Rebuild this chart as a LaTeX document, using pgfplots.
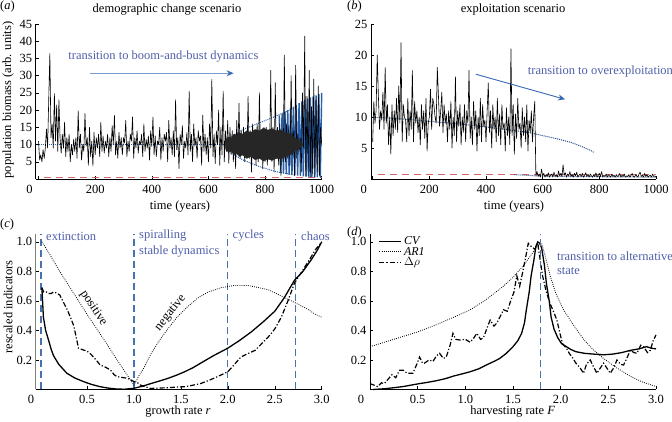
\documentclass[border=0pt]{standalone}
\usepackage{fontspec}
\setmainfont{Liberation Serif}
\usepackage{pgfplots}
\pgfplotsset{compat=1.18}
\usetikzlibrary{arrows.meta}

\definecolor{txtblue}{RGB}{80,95,170}
\definecolor{dashblue}{RGB}{70,115,175}
\definecolor{dotblue}{RGB}{45,95,175}
\definecolor{wedgeblue}{RGB}{40,95,170}
\definecolor{redd}{RGB}{210,105,105}
\definecolor{arrlight}{RGB}{120,155,210}
\definecolor{arrdark}{RGB}{55,105,180}

\pgfplotsset{
  base/.style={
    scale only axis, clip=false,
    axis lines*=left,
    axis line style={black, line width=0.6pt},
    tick style={black, line width=0.5pt},
    major tick length=3pt,
    tick align=inside,
    tick label style={font=\fontsize{12.5}{14}\selectfont},
    xticklabel style={yshift=-2.5pt},
    /pgf/number format/assume math mode=true,
    extra x ticks={0}, extra x tick labels={0},
    extra x tick style={xticklabel style={xshift=-9pt}},
  }
}
\newcommand{\fs}{\fontsize{12.5}{14}\selectfont}

\begin{document}
\begin{tikzpicture}
\useasboundingbox (0,0) rectangle (672pt,422pt);

% ---------------- (a) ----------------
\begin{axis}[base, at={(35.7pt,243pt)}, anchor=south west, width=286pt, height=155pt,
  xmin=-10, xmax=1000, ymin=0, ymax=45,
  xtick={200,400,600,800,1000}, xticklabels={200,400,600,800,1000},
  ytick={5,10,15,20,25,30,35,40,45}, yticklabels={5,10,15,20,25,30,35,40,45}]
\addplot[redd, line width=1pt, dash pattern=on 7pt off 5pt] coordinates {(20,0.5) (1000,0.5)};
\addplot[dotblue, line width=1pt, densely dotted] coordinates {(0,10) (660,10)};
\addplot[dotblue, line width=1pt, densely dotted] coordinates {(660,10) (680,12.3) (720,14.3) (780,16.3) (840,18.3) (900,20.5)};
\addplot[dotblue, line width=1pt, densely dotted] coordinates {(660,10) (680,7.6) (720,5.6) (780,3.6) (840,2.1) (900,1.2)};
\addplot[wedgeblue, line width=1.4pt] coordinates {
(850,18.5) (855,1.8) (860,19) (865,1.6) (870,19.5) (875,1.4) (880,20) (885,1.3) (890,20.5) (895,1.2)
(900,21) (905,1.1) (910,21.5) (915,1) (920,22) (925,0.9) (930,22.5) (935,0.8) (940,23) (945,0.7)
(950,23.3) (955,0.6) (960,23.7) (965,0.6) (970,24) (975,0.5) (980,24.3) (985,0.5) (990,24.6) (995,0.4) (1000,25)};
\addplot[black, line width=0.6pt, line join=round] table[row sep=\\, header=false, x expr={\coordindex*4}, y index=0] {
11\\5.5\\7\\5\\8.5\\6\\9\\14.5\\9\\23\\
36.5\\12\\16\\9\\24.8\\11\\21.5\\8\\23\\12\\
7.5\\13\\9\\16.5\\6.5\\12\\8\\13\\5\\10\\
7\\11.5\\8\\12\\6\\19.8\\9\\13\\5.5\\10\\
8\\19\\9.5\\12\\4\\15\\6.5\\11\\3.8\\13.5\\
7\\12\\9\\13\\6.5\\16.5\\8\\12.5\\7.5\\11\\
9\\13\\6.5\\12\\8\\15.5\\10\\18.5\\7\\11\\
6\\13.5\\9\\12\\7\\12\\10.5\\17\\6.5\\11\\
8\\13\\11\\18\\6\\12\\9\\14\\7.5\\11\\
10\\13\\6.5\\16\\8\\11.5\\9\\12.5\\5.5\\14\\
9.5\\18\\7\\12.5\\6.5\\11\\10\\15\\5.5\\12\\
8\\13\\11\\13.5\\5\\17\\9\\12\\7\\14\\
6.5\\23\\8.5\\12\\3\\13\\10\\15.5\\6\\11\\
9\\13.5\\7\\25.5\\8\\13\\5\\16\\9.5\\12\\
6\\14\\11\\12.5\\4\\18.5\\8\\13\\7\\12\\
5\\16\\9\\29\\6.5\\13\\4.5\\14\\10\\20\\
4\\15\\7\\25.5\\5\\14\\8\\17\\4.5\\15\\
7\\14\\5\\13\\3\\17\\8\\22\\6\\14\\
7\\15\\5\\13\\6\\24\\6\\14\\2\\16\\
6\\14\\4\\16\\5\\25\\6\\14\\3\\15\\
5\\15\\4\\14\\6\\31.5\\5\\15\\2\\28\\
6\\15\\4\\16\\1\\14\\5\\36\\5\\16\\
6\\15\\4\\30\\7\\14\\1\\33\\6\\13\\
8\\12\\2\\25\\9\\41.5\\0.8\\24\\1\\31.5\\
0.5\\21\\1.5\\29\\0.5\\23\\2\\27\\1\\15\\
10\\
};
\addplot[black!85, fill=black!85, line width=0.3pt] coordinates {
(660,11.2) (670,12.2) (680,11.8) (690,13) (700,12.6) (710,13.5) (720,13) (735,14) (750,13.5) (765,14.4) (780,14)
(795,14.8) (810,14.2) (825,14.6) (840,14) (855,14.2) (870,13.6) (885,13.2) (900,12.3) (912,11.6) (924,10.9) (935,10)
(924,9.1) (912,8.4) (900,7.7) (885,6.8) (870,6.4) (855,5.8) (840,6) (825,5.4) (810,5.8) (795,5.2) (780,6)
(765,5.6) (750,6.5) (735,6) (720,7) (710,6.5) (700,7.4) (690,7) (680,8.2) (670,7.8) (660,8.8)} -- cycle;
\draw[arrlight, line width=1.3pt, -{Stealth[length=7pt,width=6pt,color=arrdark]}] (axis cs:183,30.7) -- (axis cs:689,30.7);
\node[txtblue, font=\fs, inner sep=0pt] at (axis cs:441,35.7) {transition to boom-and-bust dynamics};
\end{axis}

% ---------------- (b) ----------------
\begin{axis}[base, at={(371pt,243pt)}, anchor=south west, width=285pt, height=155pt,
  xmin=-6, xmax=1000, ymin=0, ymax=25,
  xtick={200,400,600,800,1000}, xticklabels={200,400,600,800,1000},
  ytick={5,10,15,20,25}, yticklabels={5,10,15,20,25}]
\addplot[redd, line width=1pt, dash pattern=on 7pt off 5pt] coordinates {(20,0.65) (1000,0.65)};
\addplot[dotblue!80!black, line width=1pt, densely dotted] coordinates {(0,10) (100,9.7) (200,9.3) (300,8.9) (400,8.4) (500,7.8) (550,7.5) (600,7.0) (650,6.5) (700,5.9) (740,5.2) (770,4.6) (780,4.3)};
\addplot[dotblue!80!black, line width=1pt, densely dotted] coordinates {(500,0.7) (540,0.6) (580,0.5) (700,0.4) (1000,0.3)};
\addplot[black, line width=0.6pt, line join=round] table[row sep=\\, header=false, x expr={\coordindex*4}, y index=0] {
6\\12.5\\9\\11\\20\\13.5\\8\\11\\9.5\\14\\
8\\18\\9\\12\\5.5\\10\\4\\12\\7\\11\\
8\\13\\7.5\\15\\9\\22\\6\\12\\10\\9.5\\
6\\13\\7\\11\\8\\17.5\\6\\12.5\\9\\11\\
7.5\\10\\5.5\\12\\8\\11\\6.5\\13\\4.5\\9\\
10\\14.5\\8\\13\\12\\10\\9\\18\\13.5\\8.5\\
11\\14\\7.5\\12\\9\\10.5\\6\\11\\8\\12.5\\
5\\10\\7\\16.5\\6\\11\\8.5\\12\\5.5\\10\\
7.5\\12\\6\\11\\9\\17.5\\6.5\\10\\5.5\\12.5\\
8\\11\\4.5\\10\\7\\13\\6\\12\\8.5\\9.5\\
6\\11\\15.5\\7.5\\11\\5\\12\\8\\10\\6\\
13\\7\\10.5\\5.5\\12\\8\\9\\4.5\\11.5\\7\\
10\\5.5\\21\\7\\12\\4\\10.5\\6.5\\13\\8\\
9\\5\\11.5\\7\\10\\6\\12\\4.5\\9.5\\7.5\\
11\\6\\10\\12.5\\0.5\\
1.2\\0.4\\0.8\\0.3\\1.6\\0.5\\0.9\\0.3\\0.7\\0.4\\
1.0\\0.3\\0.6\\0.8\\0.3\\1.1\\0.4\\0.7\\0.3\\1.3\\
0.5\\0.9\\0.4\\2.3\\0.6\\1.0\\0.3\\0.8\\0.5\\1.2\\
0.4\\0.7\\0.3\\0.9\\0.5\\1.1\\0.3\\0.6\\0.8\\0.4\\
0.9\\0.3\\0.6\\1.0\\0.4\\0.7\\0.3\\0.8\\0.5\\0.3\\
0.7\\0.4\\1.0\\0.3\\0.6\\0.9\\0.4\\1.2\\0.3\\0.6\\
0.4\\0.8\\0.3\\0.7\\0.5\\0.3\\0.8\\0.4\\0.6\\0.3\\
0.7\\0.4\\0.5\\0.9\\0.3\\0.6\\0.4\\0.8\\0.3\\0.5\\
0.4\\0.7\\0.3\\0.6\\0.9\\0.4\\0.3\\0.7\\0.5\\0.3\\
0.8\\1.1\\0.4\\0.6\\0.3\\0.9\\0.4\\0.7\\0.3\\0.5\\
0.6\\0.3\\0.8\\0.4\\0.5\\0.3\\
};
\draw[arrdark, line width=0.9pt, -{Stealth[length=7pt,width=6pt]}] (axis cs:364,16.9) -- (axis cs:679,12.85);
\node[txtblue, font=\fs, inner sep=0pt, anchor=west] at (axis cs:547,17.4) {transition to overexploitation};
\end{axis}

% ---------------- (c) ----------------
\begin{axis}[base, at={(35.7pt,32.5pt)}, anchor=south west, width=286pt, height=155pt,
  xmin=-0.046, xmax=3.0, ymin=0, ymax=1.05,
  y axis line style={gray, line width=1.5pt},
  xtick={0.5,1,1.5,2,2.5,3}, xticklabels={0.5,1.0,1.5,2.0,2.5,3.0},
  ytick={0.2,0.4,0.6,0.8,1.0}, yticklabels={0.2,0.4,0.6,0.8,1.0}]
\addplot[dashblue, line width=1.2pt, dash pattern=on 7pt off 4pt] coordinates {(0.01,0) (0.01,1.05)};
\addplot[dashblue, line width=1.2pt, dash pattern=on 7pt off 4pt] coordinates {(1.0,0) (1.0,1.05)};
\addplot[dashblue, line width=1.2pt, dash pattern=on 7pt off 4pt] coordinates {(2.0,0) (2.0,1.05)};
\addplot[dashblue, line width=1.2pt, dash pattern=on 7pt off 4pt] coordinates {(2.72,0) (2.72,1.05)};
\addplot[black, line width=1.3pt] coordinates {
(0.02,0.69) (0.036,0.49) (0.06,0.40) (0.09,0.336) (0.12,0.27) (0.143,0.23) (0.2,0.17) (0.286,0.11) (0.37,0.078) (0.465,0.053)
(0.55,0.034) (0.64,0.019) (0.73,0.009) (0.82,0.003) (0.9,0.002) (1.0,0.008) (1.09,0.022) (1.18,0.04) (1.27,0.057) (1.36,0.075)
(1.45,0.096) (1.54,0.12) (1.63,0.148) (1.71,0.178) (1.85,0.23) (2.0,0.28) (2.12,0.33) (2.25,0.39) (2.38,0.46) (2.5,0.53)
(2.6,0.62) (2.71,0.74) (2.8,0.80) (2.89,0.88) (2.95,0.94) (3.0,1.0)};
\addplot[black, line width=0.8pt, dash pattern=on 0.8pt off 1.3pt] coordinates {
(0.02,1.0) (0.1,0.92) (0.2,0.81) (0.3,0.71) (0.4,0.61) (0.5,0.51) (0.6,0.415) (0.7,0.32) (0.8,0.22) (0.9,0.125)
(1.0,0.03) (1.05,0.09) (1.1,0.14) (1.18,0.24) (1.27,0.33) (1.36,0.41) (1.46,0.49)
(1.57,0.56) (1.68,0.62) (1.79,0.66) (1.93,0.69) (2.07,0.705) (2.21,0.705) (2.33,0.69) (2.43,0.676) (2.55,0.64) (2.68,0.60)
(2.77,0.57) (2.86,0.54) (2.93,0.51) (3.0,0.49)};
\addplot[black, line width=1.2pt, dash pattern=on 5pt off 2pt on 1.2pt off 2pt] coordinates {
(0.02,0.69) (0.04,0.66) (0.07,0.66) (0.09,0.65) (0.12,0.65) (0.14,0.66) (0.17,0.655) (0.21,0.64) (0.25,0.59) (0.29,0.54)
(0.33,0.48) (0.36,0.43) (0.39,0.34) (0.41,0.28) (0.45,0.27) (0.5,0.26) (0.54,0.24) (0.57,0.22) (0.61,0.19) (0.64,0.166)
(0.7,0.15) (0.75,0.132) (0.79,0.10) (0.82,0.087) (0.87,0.082) (0.93,0.076) (0.97,0.064) (1.0,0.054) (1.04,0.045) (1.07,0.03)
(1.12,0.018) (1.18,0.007) (1.27,0.01) (1.36,0.012) (1.45,0.016) (1.54,0.019) (1.62,0.028) (1.71,0.04) (1.8,0.062) (1.89,0.087)
(2.0,0.12) (2.07,0.17) (2.14,0.22) (2.22,0.245) (2.29,0.265) (2.36,0.31) (2.43,0.355) (2.5,0.41) (2.57,0.49) (2.64,0.6)
(2.71,0.72) (2.77,0.78) (2.82,0.83) (2.88,0.89) (2.93,0.945) (2.97,0.975) (3.0,1.0)};
\node[txtblue, font=\fs, inner sep=0pt, anchor=west] at (axis cs:0.064,1.04) {extinction};
\node[txtblue, font=\fs, inner sep=0pt, anchor=west] at (axis cs:1.054,1.04) {spiralling};
\node[txtblue, font=\fs, inner sep=0pt, anchor=west] at (axis cs:1.054,0.934) {stable dynamics};
\node[txtblue, font=\fs, inner sep=0pt, anchor=west] at (axis cs:2.05,1.04) {cycles};
\node[txtblue, font=\fs, inner sep=0pt, anchor=west] at (axis cs:2.78,1.04) {chaos};
\node[font=\fs, inner sep=0pt, rotate=-57] at (axis cs:0.57,0.55) {positive};
\node[font=\fs, inner sep=0pt, rotate=52] at (axis cs:1.39,0.52) {negative};
\end{axis}

% ---------------- (d) ----------------
\begin{axis}[base, at={(370pt,32.5pt)}, anchor=south west, width=286pt, height=155pt,
  xmin=0, xmax=3.0, ymin=0, ymax=1.05,
  xtick={0.5,1,1.5,2,2.5,3}, xticklabels={0.5,1.0,1.5,2.0,2.5,3.0},
  ytick={0.2,0.4,0.6,0.8,1.0}, yticklabels={0.2,0.4,0.6,0.8,1.0},
  legend style={at={(0.03,1.0)}, anchor=north west, draw=none, fill=none, font=\fontsize{12}{13}\selectfont, row sep=-3pt, inner sep=0pt},
  legend cell align=left,
  legend image code/.code={\draw[#1] (0pt,0pt) -- (22pt,0pt);}]
\addplot[black, line width=1.3pt] coordinates {
(0.03,0.0) (0.15,0.005) (0.25,0.012) (0.35,0.02) (0.45,0.032) (0.52,0.04) (0.6,0.048) (0.7,0.06) (0.8,0.075) (0.87,0.09)
(0.95,0.103) (1.05,0.12) (1.14,0.14) (1.22,0.166) (1.3,0.19) (1.36,0.21) (1.43,0.245) (1.5,0.29) (1.55,0.33) (1.59,0.38)
(1.62,0.45) (1.64,0.54) (1.67,0.66) (1.69,0.77) (1.72,0.88) (1.74,0.97) (1.76,1.0) (1.78,0.99) (1.8,0.96) (1.83,0.84)
(1.85,0.72) (1.88,0.6) (1.9,0.49) (1.93,0.41) (1.97,0.35) (2.01,0.31) (2.06,0.29) (2.11,0.27) (2.16,0.256) (2.25,0.245)
(2.34,0.24) (2.45,0.235) (2.55,0.24) (2.64,0.25) (2.73,0.265) (2.82,0.275) (2.9,0.29) (2.95,0.28) (3.0,0.275)};
\addlegendentry{\textit{CV}}
\addplot[black, line width=0.8pt, dash pattern=on 0.8pt off 1.3pt] coordinates {
(0.0,0.29) (0.2,0.33) (0.35,0.36) (0.5,0.39) (0.7,0.44) (0.88,0.49) (1.05,0.54) (1.2,0.6) (1.4,0.70) (1.5,0.76)
(1.61,0.84) (1.7,0.92) (1.75,0.97) (1.8,0.99) (1.84,0.90) (1.89,0.77) (1.95,0.65) (2.03,0.54) (2.12,0.45) (2.24,0.34)
(2.34,0.27) (2.45,0.21) (2.58,0.15) (2.73,0.09) (2.86,0.05) (3.0,0.02)};
\addlegendentry{\textit{AR1}}
\addplot[black, line width=1.2pt, dash pattern=on 5pt off 2pt on 1.2pt off 2pt] coordinates {
(0.0,0.04) (0.04,0.03) (0.08,0.02) (0.12,0.045) (0.15,0.04) (0.19,0.07) (0.23,0.1) (0.27,0.08) (0.31,0.13) (0.35,0.13)
(0.39,0.11) (0.45,0.11) (0.49,0.17) (0.52,0.22) (0.55,0.18) (0.57,0.178) (0.62,0.2) (0.66,0.19) (0.7,0.23) (0.73,0.245)
(0.77,0.21) (0.8,0.22) (0.84,0.3) (0.87,0.38) (0.9,0.34) (0.94,0.335) (1.0,0.34) (1.05,0.32) (1.09,0.35) (1.12,0.38)
(1.16,0.34) (1.19,0.35) (1.23,0.42) (1.26,0.47) (1.3,0.43) (1.33,0.45) (1.37,0.5) (1.4,0.54) (1.44,0.53) (1.47,0.59)
(1.51,0.66) (1.54,0.77) (1.57,0.70) (1.6,0.79) (1.64,0.92) (1.66,0.99) (1.69,0.97) (1.73,0.95) (1.76,0.99) (1.78,0.90)
(1.81,0.77) (1.85,0.66) (1.89,0.58) (1.93,0.52) (1.96,0.47) (2.0,0.36) (2.02,0.31) (2.06,0.28) (2.09,0.245) (2.13,0.21)
(2.16,0.178) (2.2,0.15) (2.24,0.11) (2.27,0.17) (2.31,0.2) (2.34,0.16) (2.38,0.11) (2.41,0.14) (2.45,0.178) (2.49,0.14)
(2.52,0.11) (2.56,0.15) (2.59,0.2) (2.63,0.17) (2.66,0.166) (2.7,0.22) (2.73,0.265) (2.77,0.25) (2.8,0.245) (2.84,0.3)
(2.87,0.29) (2.91,0.25) (2.94,0.265) (2.97,0.33) (3.0,0.37)};
\addlegendentry{$\Delta\rho$}
\addplot[dashblue, line width=1.2pt, dash pattern=on 7pt off 4pt, forget plot] coordinates {(1.79,0) (1.79,1.05)};
\node[txtblue, font=\fs, inner sep=0pt, anchor=west] at (axis cs:1.96,0.90) {transition to alternative};
\node[txtblue, font=\fs, inner sep=0pt, anchor=west] at (axis cs:1.96,0.80) {state};
\end{axis}

% ---------------- outer texts ----------------
\node[font=\fs, anchor=west, inner sep=0pt] at (0pt,415pt) {(\textit{a})};
\node[font=\fs, anchor=west, inner sep=0pt] at (347pt,415pt) {(\textit{b})};
\node[font=\fs, anchor=west, inner sep=0pt] at (0pt,197pt) {(\textit{c})};
\node[font=\fs, anchor=west, inner sep=0pt] at (347pt,189pt) {(\textit{d})};
\node[font=\fs, inner sep=0pt] at (167pt,412pt) {demographic change scenario};
\node[font=\fs, inner sep=0pt] at (513pt,412pt) {exploitation scenario};
\node[font=\fs, inner sep=0pt, rotate=90] at (8pt,322pt) {population biomass (arb. units)};
\node[font=\fs, inner sep=0pt, rotate=90] at (8pt,115pt) {rescaled indicators};
\node[font=\fs, inner sep=0pt] at (180pt,215pt) {time (years)};
\node[font=\fs, inner sep=0pt] at (514pt,215pt) {time (years)};
\node[font=\fs, inner sep=0pt] at (178pt,10.3pt) {growth rate \textit{r}};
\node[font=\fs, inner sep=0pt] at (512.7pt,10.3pt) {harvesting rate \textit{F}};
\end{tikzpicture}
\end{document}
